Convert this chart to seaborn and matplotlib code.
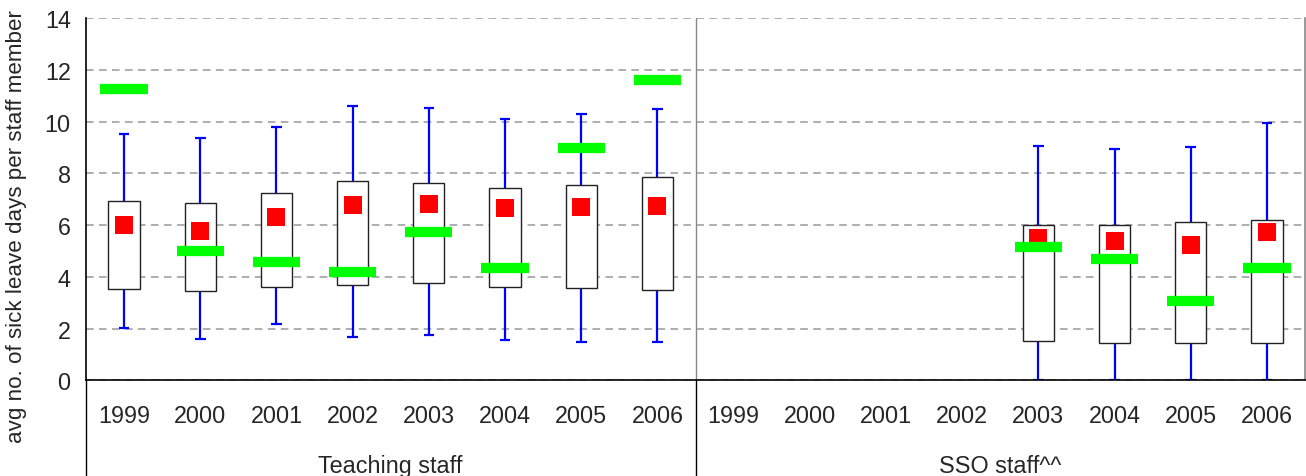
import numpy as np
import pandas as pd
import matplotlib
matplotlib.use("Agg")
import matplotlib.pyplot as plt
import matplotlib.transforms as mtransforms
import seaborn as sns

# ---- data -------------------------------------------------------------
years = ["1999", "2000", "2001", "2002", "2003", "2004", "2005", "2006"]
groups = ["Teaching staff", "SSO staff^^"]

# Teaching staff: whisker low, lower quartile, upper quartile, whisker high,
# mean (red square) and school value (green bar)
teach_low = [2.03, 1.60, 2.16, 1.68, 1.77, 1.57, 1.48, 1.48]
teach_q1 = [3.53, 3.45, 3.59, 3.69, 3.76, 3.59, 3.57, 3.51]
teach_q3 = [6.92, 6.85, 7.26, 7.72, 7.63, 7.45, 7.54, 7.85]
teach_high = [9.51, 9.36, 9.79, 10.60, 10.52, 10.09, 10.31, 10.49]
teach_mean = [6.00, 5.78, 6.30, 6.78, 6.81, 6.67, 6.71, 6.74]
teach_school = [11.25, 5.00, 4.57, 4.17, 5.74, 4.35, 8.99, 11.61]

# SSO staff: no figures before 2003
nan = np.nan
sso_low = [nan, nan, nan, nan, 0.0, 0.0, 0.0, 0.0]
sso_q1 = [nan, nan, nan, nan, 1.51, 1.43, 1.46, 1.46]
sso_q3 = [nan, nan, nan, nan, 5.99, 6.02, 6.14, 6.19]
sso_high = [nan, nan, nan, nan, 9.08, 8.95, 9.02, 9.97]
sso_mean = [nan, nan, nan, nan, 5.50, 5.39, 5.24, 5.74]
sso_school = [nan, nan, nan, nan, 5.17, 4.71, 3.07, 4.36]

y_ticks = [0, 2, 4, 6, 8, 10, 12, 14]
y_label = "avg no. of sick leave days per staff member"

# ---- long-form table ----------------------------------------------------
rows = []
series = [
    (groups[0], teach_low, teach_q1, teach_q3, teach_high, teach_mean, teach_school),
    (groups[1], sso_low, sso_q1, sso_q3, sso_high, sso_mean, sso_school),
]
for gi, (g, lo, q1, q3, hi, mn, sc) in enumerate(series):
    for yi, yr in enumerate(years):
        rows.append(dict(group=g, year=yr, pos=gi * len(years) + yi,
                         low=lo[yi], q1=q1[yi], q3=q3[yi], high=hi[yi],
                         mean=mn[yi], school=sc[yi]))
df = pd.DataFrame(rows)
stats = df.dropna()

# ---- style --------------------------------------------------------------
sns.set_style("white")
plt.rcParams["font.family"] = ["Liberation Sans", "DejaVu Sans"]

W, H = 1306, 477
fig = plt.figure(figsize=(W / 100, H / 100), dpi=100)
ax_left, ax_right, ax_top, ax_bottom = 86, 1305, 19.3, 381.3
ax = fig.add_axes([ax_left / W, 1 - ax_bottom / H,
                   (ax_right - ax_left) / W, (ax_bottom - ax_top) / H])

blue, red, green = "#0000FF", "#FF0000", "#00FF00"

# whiskers and caps
ax.vlines(stats["pos"], stats["low"], stats["q1"], color=blue, lw=1.6, zorder=2)
ax.vlines(stats["pos"], stats["q3"], stats["high"], color=blue, lw=1.6, zorder=2)
cap = 0.07
ax.hlines(stats["low"], stats["pos"] - cap, stats["pos"] + cap, color=blue, lw=1.6, zorder=2)
ax.hlines(stats["high"], stats["pos"] - cap, stats["pos"] + cap, color=blue, lw=1.6, zorder=2)

# inter-quartile boxes
ax.bar(stats["pos"], stats["q3"] - stats["q1"], bottom=stats["q1"], width=0.41,
       facecolor="white", edgecolor="#222222", linewidth=1.0, zorder=3)

# means
sns.scatterplot(data=stats, x="pos", y="mean", marker="s", color=red, s=150,
                linewidth=0, legend=False, ax=ax, zorder=4)

# school values
ax.hlines(stats["school"], stats["pos"] - 0.31, stats["pos"] + 0.31,
          color=green, lw=7.4, capstyle="butt", zorder=5)

# ---- axes ---------------------------------------------------------------
n = len(df)
ax.set_xlim(-0.5, n - 0.5)
ax.set_ylim(0, 14)
ax.set_yticks(y_ticks)
ax.set_yticklabels([str(t) for t in y_ticks])
ax.set_xticks(df["pos"])
ax.set_xticklabels(df["year"])
ax.set_xlabel("")
ax.set_ylabel("")
ax.tick_params(axis="y", direction="out", length=6, width=1, color="black",
               labelsize=16.8, pad=5)
ax.tick_params(axis="x", length=0, labelsize=16.8, pad=17)

ax.yaxis.grid(True, linestyle=(0, (5, 3.5)), color="#999999", lw=1.1)
ax.xaxis.grid(False)
ax.set_axisbelow(True)

for side in ("left", "bottom"):
    ax.spines[side].set_color("black")
    ax.spines[side].set_linewidth(1.2)
ax.spines["top"].set_visible(False)
ax.spines["right"].set_color("#888888")
ax.spines["right"].set_linewidth(1.2)

# group separator inside the plot
ax.axvline(len(years) - 0.5, color="#888888", lw=1.0, zorder=1)

# multi-level category axis: separators and group names
trans = mtransforms.blended_transform_factory(ax.transData, ax.transAxes)
drop = -(H - ax_bottom) / (ax_bottom - ax_top)
for xb in (-0.5, len(years) - 0.5):
    ax.plot([xb, xb], [0, drop], transform=trans, clip_on=False,
            color="black", lw=1.0)
for gi, g in enumerate(groups):
    ax.text(gi * len(years) + (len(years) - 1) / 2, -0.253, g, transform=trans,
            ha="center", va="baseline", fontsize=16.8)

fig.text(17 / W, 1 - 227 / H, y_label, rotation=90, ha="center", va="center",
         fontsize=16.1)

fig.savefig("out.png", dpi=100)
